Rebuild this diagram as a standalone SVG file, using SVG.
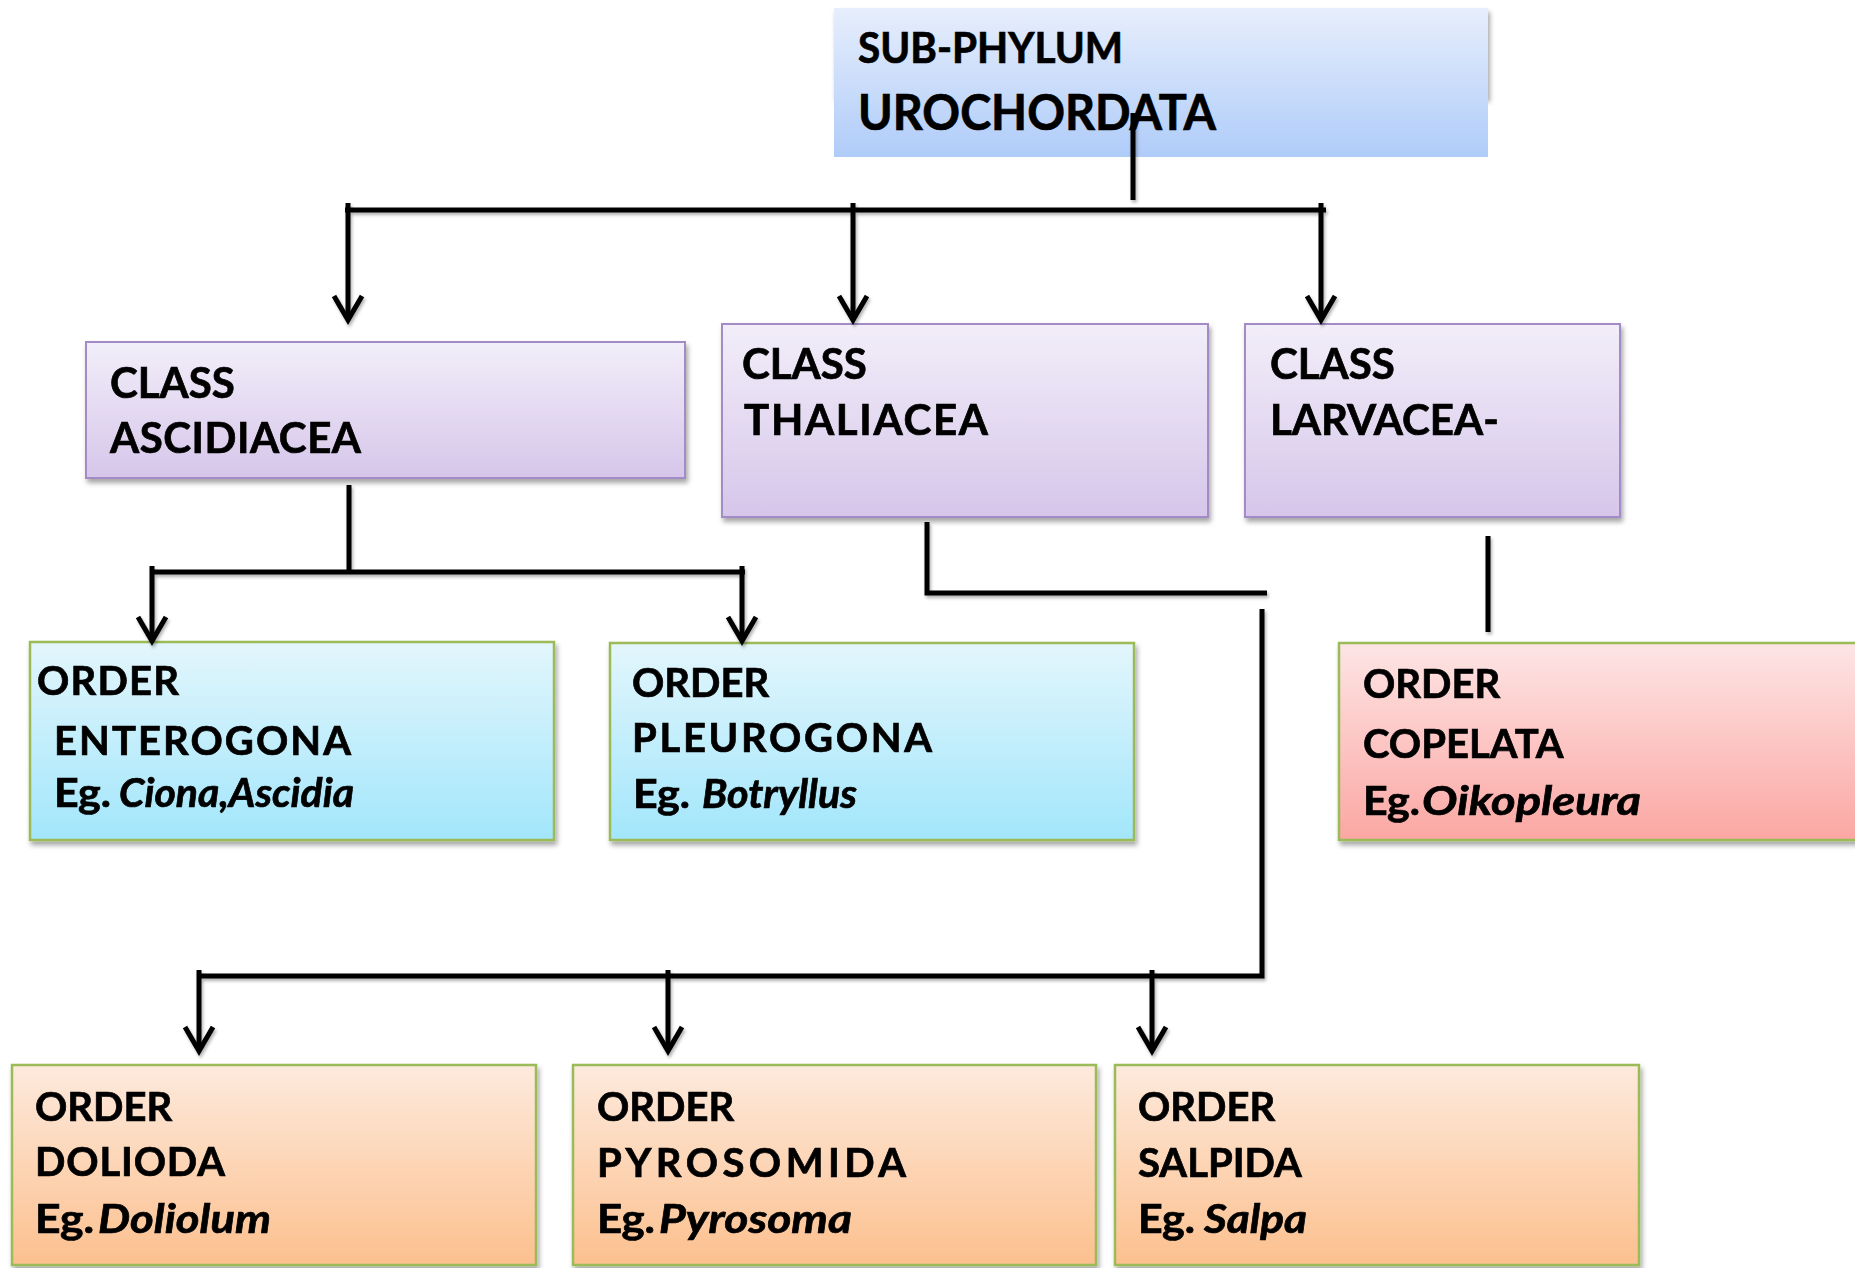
<svg xmlns="http://www.w3.org/2000/svg" width="1855" height="1268" viewBox="0 0 1855 1268">
<defs>
<linearGradient id="gTop" x1="0" y1="0" x2="0" y2="1"><stop offset="0" stop-color="#e7eefc"/><stop offset="1" stop-color="#afccf9"/></linearGradient>
<linearGradient id="gClass" x1="0" y1="0" x2="0" y2="1"><stop offset="0" stop-color="#f2eef9"/><stop offset="1" stop-color="#d6c6ea"/></linearGradient>
<linearGradient id="gBlue" x1="0" y1="0" x2="0" y2="1"><stop offset="0" stop-color="#e3f6fc"/><stop offset="1" stop-color="#a2e6fb"/></linearGradient>
<linearGradient id="gPink" x1="0" y1="0" x2="0" y2="1"><stop offset="0" stop-color="#fde5e5"/><stop offset="1" stop-color="#fba7a3"/></linearGradient>
<linearGradient id="gOrange" x1="0" y1="0" x2="0" y2="1"><stop offset="0" stop-color="#fdeadd"/><stop offset="1" stop-color="#fcc08e"/></linearGradient>
<filter id="sh" x="-5%" y="-10%" width="115%" height="130%"><feDropShadow dx="2" dy="4" stdDeviation="2.5" flood-color="#000" flood-opacity="0.35"/></filter>
<filter id="lsh" x="-10%" y="-10%" width="120%" height="120%"><feDropShadow dx="1.5" dy="2.5" stdDeviation="1.5" flood-color="#000" flood-opacity="0.3"/></filter>
<marker id="arr" markerUnits="userSpaceOnUse" markerWidth="40" markerHeight="40" refX="0" refY="0" orient="auto" overflow="visible">
<path d="M-24,-14 L0,0 L-24,14" fill="none" stroke="#000" stroke-width="5" stroke-linejoin="miter"/>
</marker>
</defs>
<style>
text{font-family:Lato,"Open Sans","Liberation Sans",sans-serif;font-weight:700;fill:#000;stroke:#000;stroke-width:0.7}
.cls{font-size:42px}
.ord{font-size:40px}
.it{font-style:italic;font-size:41px}
.box{filter:url(#sh)}
.cb{fill:url(#gClass);stroke:#a38bc6;stroke-width:2}
.bb{fill:url(#gBlue);stroke:#9bbb59;stroke-width:2.5}
.pb{fill:url(#gPink);stroke:#9bbb59;stroke-width:2.5}
.ob{fill:url(#gOrange);stroke:#9bbb59;stroke-width:2.5}
.ln{fill:none;stroke:#000;stroke-width:5}
</style>
<rect width="1855" height="1268" fill="#fff"/>

<g id="node-urochordata">
<rect x="834" y="8" width="654" height="90" fill="#e7eefc" filter="url(#sh)"/>
<rect x="834" y="8" width="654" height="149" fill="url(#gTop)"/>
<text x="858" y="63" font-size="42" textLength="265" lengthAdjust="spacingAndGlyphs">SUB-PHYLUM</text>
<text x="858" y="130" font-size="49" textLength="358" lengthAdjust="spacingAndGlyphs">UROCHORDATA</text>
</g>

<g id="node-ascidiacea" class="box">
<rect class="cb" x="86" y="342" width="599" height="136"/>
<text class="cls" x="110" y="398">CLASS</text>
<text class="cls" x="110" y="453" textLength="251" lengthAdjust="spacing">ASCIDIACEA</text>
</g>

<g id="node-thaliacea" class="box">
<rect class="cb" x="722" y="324" width="486" height="193"/>
<text class="cls" x="742" y="379">CLASS</text>
<text class="cls" x="744" y="435" textLength="244" lengthAdjust="spacing">THALIACEA</text>
</g>

<g id="node-larvacea" class="box">
<rect class="cb" x="1245" y="324" width="375" height="193"/>
<text class="cls" x="1270" y="379">CLASS</text>
<text class="cls" x="1270" y="435">LARVACEA-</text>
</g>

<g id="node-enterogona" class="box">
<rect class="bb" x="30" y="642" width="524" height="198"/>
<text class="ord" x="37" y="695" textLength="142" lengthAdjust="spacing">ORDER</text>
<text class="ord" x="54" y="755" textLength="297" lengthAdjust="spacing">ENTEROGONA</text>
<text class="ord" x="54" y="807" textLength="57" lengthAdjust="spacingAndGlyphs">Eg.</text>
<text class="ord it" x="119" y="807" textLength="235" lengthAdjust="spacingAndGlyphs">Ciona,Ascidia</text>
</g>

<g id="node-pleurogona" class="box">
<rect class="bb" x="610" y="643" width="524" height="197"/>
<text class="ord" x="632" y="697">ORDER</text>
<text class="ord" x="632" y="752" textLength="300" lengthAdjust="spacing">PLEUROGONA</text>
<text class="ord" x="633" y="808" textLength="57" lengthAdjust="spacingAndGlyphs">Eg.</text>
<text class="ord it" x="702" y="808" textLength="155" lengthAdjust="spacingAndGlyphs">Botryllus</text>
</g>

<g id="node-copelata" class="box">
<rect class="pb" x="1339" y="643" width="560" height="197"/>
<text class="ord" x="1363" y="698">ORDER</text>
<text class="ord" x="1363" y="758">COPELATA</text>
<text class="ord" x="1363" y="815" textLength="57" lengthAdjust="spacingAndGlyphs">Eg.</text>
<text class="ord it" x="1422" y="815" textLength="219" lengthAdjust="spacingAndGlyphs">Oikopleura</text>
</g>

<g id="node-dolioda" class="box">
<rect class="ob" x="12" y="1065" width="524" height="200"/>
<text class="ord" x="35" y="1121">ORDER</text>
<text class="ord" x="35" y="1176" textLength="190" lengthAdjust="spacing">DOLIODA</text>
<text class="ord" x="35" y="1233" textLength="59" lengthAdjust="spacingAndGlyphs">Eg.</text>
<text class="ord it" x="98" y="1233" textLength="173" lengthAdjust="spacingAndGlyphs">Doliolum</text>
</g>

<g id="node-pyrosomida" class="box">
<rect class="ob" x="573" y="1065" width="523" height="200"/>
<text class="ord" x="597" y="1121">ORDER</text>
<text class="ord" x="597" y="1177" textLength="309" lengthAdjust="spacing">PYROSOMIDA</text>
<text class="ord" x="597" y="1233" textLength="58" lengthAdjust="spacingAndGlyphs">Eg.</text>
<text class="ord it" x="659" y="1233" textLength="193" lengthAdjust="spacingAndGlyphs">Pyrosoma</text>
</g>

<g id="node-salpida" class="box">
<rect class="ob" x="1115" y="1065" width="524" height="200"/>
<text class="ord" x="1138" y="1121">ORDER</text>
<text class="ord" x="1138" y="1177">SALPIDA</text>
<text class="ord" x="1138" y="1233" textLength="57" lengthAdjust="spacingAndGlyphs">Eg.</text>
<text class="ord it" x="1204" y="1233" textLength="103" lengthAdjust="spacingAndGlyphs">Salpa</text>
</g>

<g id="connectors" filter="url(#lsh)">
<path class="ln" d="M1133,113 V200"/>
<path class="ln" d="M345,210 H1326"/>
<path class="ln" d="M348,203 V320" marker-end="url(#arr)"/>
<path class="ln" d="M853,203 V320" marker-end="url(#arr)"/>
<path class="ln" d="M1321,203 V320" marker-end="url(#arr)"/>
<path class="ln" d="M349,485 V572"/>
<path class="ln" d="M150,572 H745"/>
<path class="ln" d="M152,566 V641" marker-end="url(#arr)"/>
<path class="ln" d="M742,566 V641" marker-end="url(#arr)"/>
<path class="ln" d="M927,522 V593 H1267"/>
<path class="ln" d="M1262,609 V976 H197"/>
<path class="ln" d="M199,970 V1051" marker-end="url(#arr)"/>
<path class="ln" d="M668,970 V1051" marker-end="url(#arr)"/>
<path class="ln" d="M1152,970 V1051" marker-end="url(#arr)"/>
<path class="ln" d="M1488,536 V632"/>
</g>
</svg>
